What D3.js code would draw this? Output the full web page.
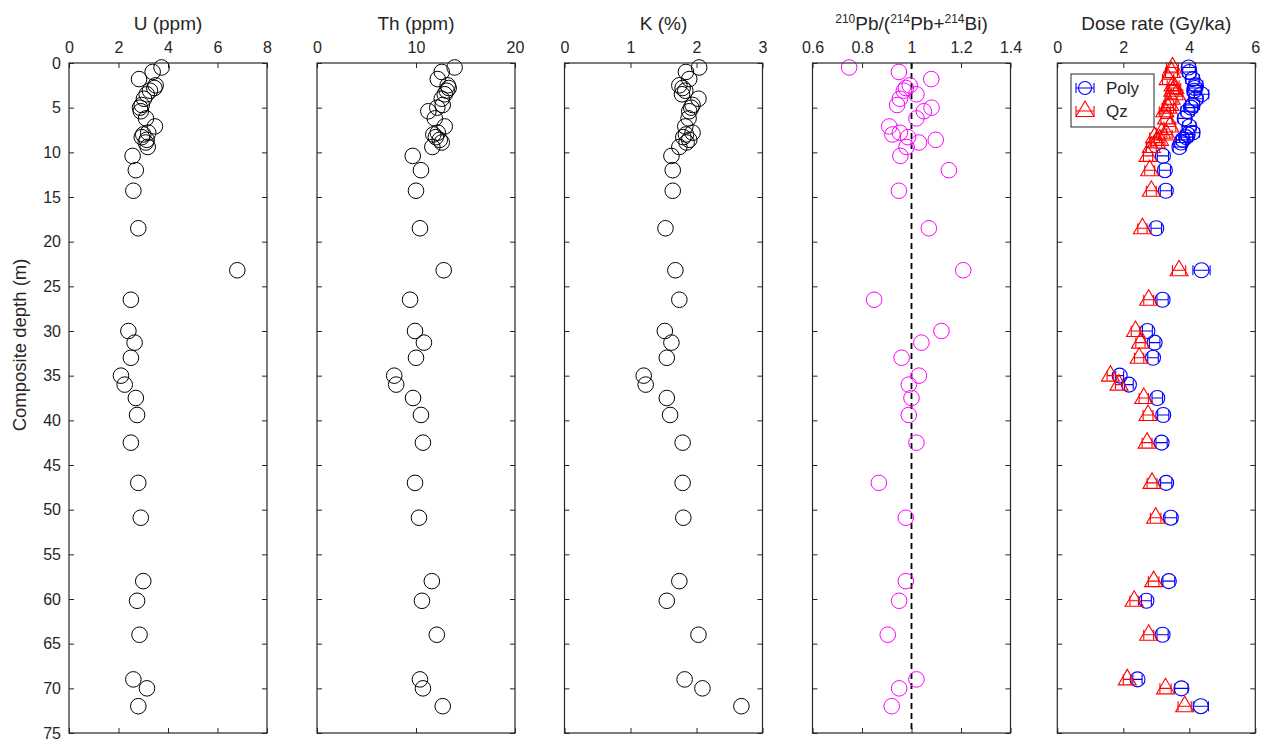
<!DOCTYPE html>
<html>
<head>
<meta charset="utf-8">
<script src="https://cdn.jsdelivr.net/npm/d3@7"></script>
<style>
  body { margin: 0; background: #fff; }
  svg { display: block; font-family: Arial, "Liberation Sans", sans-serif; }
</style>
</head>
<body>
<div id="chart"></div>
<script>
// sample depths (m), shared by all panels
const depth = [0.5, 1.0, 1.8, 2.5, 2.8, 3.1, 3.5, 4.0, 4.7, 5.0, 5.4, 6.2, 7.1, 7.8, 8.0, 8.3, 8.6, 8.9, 9.4, 10.4,
    12.0, 14.3, 18.5, 23.2, 26.5, 30.0, 31.3, 33.0, 35.0, 36.0, 37.5, 39.4, 42.5, 47.0, 50.9, 58.0, 60.2, 64.0, 69.0, 70.0, 72.0];

const uPpm = [3.74, 3.38, 2.83, 3.5, 3.45, 3.27, 3.14, 3.03, 2.94, 2.87, 2.9, 3.11, 3.47, 3.2, 3.0, 2.94, 3.14, 3.1, 3.18, 2.57,
    2.7, 2.6, 2.8, 6.8, 2.5, 2.4, 2.65, 2.5, 2.1, 2.25, 2.7, 2.75, 2.5, 2.8, 2.9, 3.0, 2.75, 2.85, 2.6, 3.15, 2.8];

const thPpm = [13.9, 12.6, 12.2, 13.2, 13.3, 13.1, 12.9, 12.6, 12.7, 12.15, 11.25, 11.9, 12.9, 12.2, 11.75, 12.0, 12.4, 12.6, 11.65, 9.67,
    10.5, 10.0, 10.4, 12.8, 9.4, 9.9, 10.8, 10.0, 7.8, 8.0, 9.7, 10.5, 10.7, 9.9, 10.3, 11.6, 10.6, 12.1, 10.4, 10.7, 12.7];

const kPct = [2.04, 1.84, 1.89, 1.74, 1.79, 1.83, 1.78, 2.03, 1.94, 1.92, 1.89, 1.88, 1.83, 1.94, 1.84, 1.8, 1.89, 1.85, 1.74, 1.62,
    1.64, 1.64, 1.53, 1.68, 1.74, 1.52, 1.62, 1.55, 1.2, 1.23, 1.55, 1.6, 1.79, 1.79, 1.8, 1.74, 1.55, 2.03, 1.82, 2.09, 2.68];

const pbRatio = [0.748, 0.949, 1.08, 0.993, 0.977, 0.969, 1.02, 0.953, 0.942, 1.081, 1.05, 1.02, 0.91, 0.953, 0.923, 0.986, 1.098, 1.03, 0.98, 0.955,
    1.151, 0.949, 1.07, 1.209, 0.849, 1.121, 1.04, 0.96, 1.03, 0.989, 1.0, 0.989, 1.02, 0.868, 0.977, 0.977, 0.95, 0.904, 1.02, 0.95, 0.92];

const polyDose = [3.98, 4.0, 4.1, 4.2, 4.17, 4.15, 4.37, 4.2, 4.1, 4.05, 3.95, 3.86, 4.0, 4.1, 3.95, 3.9, 3.8, 3.75, 3.7, 3.2,
    3.26, 3.29, 3.0, 4.37, 3.19, 2.73, 2.95, 2.9, 1.89, 2.17, 3.03, 3.21, 3.16, 3.3, 3.44, 3.38, 2.7, 3.19, 2.43, 3.76, 4.35];
const polyErr = [0.2, 0.2, 0.2, 0.21, 0.21, 0.21, 0.22, 0.21, 0.21, 0.2, 0.2, 0.2, 0.2, 0.21, 0.2, 0.2, 0.19, 0.19, 0.19, 0.17,
    0.17, 0.17, 0.16, 0.26, 0.17, 0.15, 0.16, 0.16, 0.12, 0.13, 0.16, 0.17, 0.17, 0.17, 0.18, 0.18, 0.15, 0.17, 0.14, 0.2, 0.23];

const qzDose = [3.49, 3.46, 3.36, 3.51, 3.56, 3.5, 3.61, 3.45, 3.41, 3.35, 3.26, 3.31, 3.41, 3.16, 3.31, 2.95, 3.1, 3.0, 2.85, 2.75,
    2.8, 2.85, 2.58, 3.69, 2.77, 2.37, 2.52, 2.48, 1.61, 1.87, 2.62, 2.75, 2.72, 2.87, 2.98, 2.92, 2.33, 2.77, 2.12, 3.28, 3.86];
const qzErr = [0.18, 0.18, 0.17, 0.18, 0.18, 0.18, 0.19, 0.18, 0.18, 0.17, 0.17, 0.17, 0.18, 0.16, 0.17, 0.15, 0.16, 0.16, 0.15, 0.14,
    0.15, 0.15, 0.14, 0.2, 0.15, 0.13, 0.14, 0.14, 0.1, 0.11, 0.14, 0.15, 0.15, 0.15, 0.16, 0.16, 0.13, 0.15, 0.12, 0.17, 0.2];

const depthTicks = [0, 5, 10, 15, 20, 25, 30, 35, 40, 45, 50, 55, 60, 65, 70, 75];
const uTicks = [0, 2, 4, 6, 8];
const thTicks = [0, 10, 20];
const kTicks = [0, 1, 2, 3];
const pbTicks = [0.6, 0.8, 1, 1.2, 1.4];
const doseTicks = [0, 2, 4, 6];
const legendLabels = ['Poly', 'Qz'];

const W = 1271, H = 744;
const plotTop = 63, plotBottom = 733, pw = 198;
const ink = '#262626';

const svg = d3.select('#chart').append('svg')
    .attr('width', W)
    .attr('height', H);

const y = d3.scaleLinear().domain([0, 75]).range([plotTop, plotBottom]);

const panels = [
    { title: 'U (ppm)', domain: [0, 8], ticks: uTicks, left: 69, values: uPpm, color: '#000' },
    { title: 'Th (ppm)', domain: [0, 20], ticks: thTicks, left: 317, values: thPpm, color: '#000' },
    { title: 'K (%)', domain: [0, 3], ticks: kTicks, left: 564.5, values: kPct, color: '#000' },
    { title: null, domain: [0.6, 1.4], ticks: pbTicks, left: 812.5, values: pbRatio, color: '#ff00ff' },
    { title: 'Dose rate (Gy/ka)', domain: [0, 6], ticks: doseTicks, left: 1057.3, values: null }
];

function styleAxis(g) {
    g.select('.domain').remove();
    g.attr('font-size', 16).attr('font-family', null).attr('color', ink);
    g.selectAll('line').attr('stroke-width', 1);
    g.selectAll('text').attr('fill', ink);
}

function triangle(cx, cy) {
    const p = d3.path();
    p.moveTo(cx, cy - 10);
    p.lineTo(cx - 9, cy + 5.5);
    p.lineTo(cx + 9, cy + 5.5);
    p.closePath();
    return p.toString();
}

function errorBars(g, x, vals, errs, color) {
    const rows = d3.zip(depth, vals, errs);
    const eb = g.append('g').attr('stroke', color).attr('stroke-width', 1.1).attr('fill', 'none');
    eb.selectAll('path.bar').data(rows).join('path')
        .attr('class', 'bar')
        .attr('d', d => {
            const x0 = x(d[1] - d[2]), x1 = x(d[1] + d[2]), yy = y(d[0]);
            return `M${x0},${yy}H${x1}M${x0},${yy - 5}V${yy + 5}M${x1},${yy - 5}V${yy + 5}`;
        });
    return rows;
}

panels.forEach((p, i) => {
    const x = d3.scaleLinear().domain(p.domain).range([p.left, p.left + pw]);
    const g = svg.append('g');

    g.append('g')
        .attr('transform', `translate(0,${plotTop})`)
        .call(d3.axisTop(x).tickValues(p.ticks).tickFormat(d3.format('~g')).tickSize(-5).tickSizeOuter(0).tickPadding(10))
        .call(styleAxis);
    g.append('g')
        .attr('transform', `translate(0,${plotBottom})`)
        .call(d3.axisBottom(x).tickValues(p.ticks).tickFormat('').tickSize(-5).tickSizeOuter(0))
        .call(styleAxis);
    g.append('g')
        .attr('transform', `translate(${p.left},0)`)
        .call(d3.axisLeft(y).tickValues(depthTicks).tickSize(-5).tickSizeOuter(0).tickPadding(8)
            .tickFormat(i === 0 ? d3.format('d') : ''))
        .call(styleAxis);
    g.append('g')
        .attr('transform', `translate(${p.left + pw},0)`)
        .call(d3.axisRight(y).tickValues(depthTicks).tickFormat('').tickSize(-5).tickSizeOuter(0))
        .call(styleAxis);

    // title
    if (p.title) {
        g.append('text')
            .attr('x', p.left + pw / 2)
            .attr('y', 30)
            .attr('text-anchor', 'middle')
            .attr('font-size', 19)
            .attr('fill', ink)
            .text(p.title);
    } else {
        const t = g.append('text')
            .attr('x', p.left + pw / 2)
            .attr('y', 30)
            .attr('text-anchor', 'middle')
            .attr('font-size', 19)
            .attr('fill', ink);
        t.append('tspan').attr('font-size', 12).attr('dy', -7).text('210');
        t.append('tspan').attr('dy', 7).text('Pb/(');
        t.append('tspan').attr('font-size', 12).attr('dy', -7).text('214');
        t.append('tspan').attr('dy', 7).text('Pb+');
        t.append('tspan').attr('font-size', 12).attr('dy', -7).text('214');
        t.append('tspan').attr('dy', 7).text('Bi)');

        g.append('line')
            .attr('x1', x(1)).attr('x2', x(1))
            .attr('y1', plotTop).attr('y2', plotBottom)
            .attr('stroke', '#000')
            .attr('stroke-width', 1.8)
            .attr('stroke-dasharray', '6,4');
    }

    if (p.values) {
        g.append('g').selectAll('circle')
            .data(d3.zip(depth, p.values))
            .join('circle')
            .attr('cx', d => x(d[1]))
            .attr('cy', d => y(d[0]))
            .attr('r', 7.8)
            .attr('fill', 'none')
            .attr('stroke', p.color)
            .attr('stroke-width', 1);
    } else {
        const polyRows = errorBars(g, x, polyDose, polyErr, '#0000ff');
        g.append('g').selectAll('circle')
            .data(polyRows)
            .join('circle')
            .attr('cx', d => x(d[1]))
            .attr('cy', d => y(d[0]))
            .attr('r', 7.5)
            .attr('fill', 'none')
            .attr('stroke', '#0000ff')
            .attr('stroke-width', 1.1);

        const qzRows = errorBars(g, x, qzDose, qzErr, '#ff0000');
        g.append('g').selectAll('path')
            .data(qzRows)
            .join('path')
            .attr('d', d => triangle(x(d[1]), y(d[0])))
            .attr('fill', 'none')
            .attr('stroke', '#ff0000')
            .attr('stroke-width', 1.1);

        // legend
        const lg = g.append('g');
        lg.append('rect')
            .attr('x', 1071).attr('y', 74)
            .attr('width', 83).attr('height', 53)
            .attr('fill', '#fff')
            .attr('stroke', ink)
            .attr('stroke-width', 1);
        legendLabels.forEach((lab, j) => {
            const ly = 88 + j * 23, lx = 1085, col = j === 0 ? '#0000ff' : '#ff0000';
            lg.append('path')
                .attr('d', `M${lx - 9},${ly}H${lx + 9}M${lx - 9},${ly - 5}V${ly + 5}M${lx + 9},${ly - 5}V${ly + 5}`)
                .attr('stroke', col).attr('stroke-width', 1.1).attr('fill', 'none');
            if (j === 0) {
                lg.append('circle').attr('cx', lx).attr('cy', ly).attr('r', 6.5)
                    .attr('fill', 'none').attr('stroke', col).attr('stroke-width', 1.1);
            } else {
                lg.append('path').attr('d', triangle(lx, ly))
                    .attr('fill', 'none').attr('stroke', col).attr('stroke-width', 1.1);
            }
            lg.append('text')
                .attr('x', 1106).attr('y', ly + 6)
                .attr('font-size', 17)
                .attr('fill', ink)
                .text(lab);
        });
    }

    // box
    g.append('rect')
        .attr('x', p.left).attr('y', plotTop)
        .attr('width', pw).attr('height', plotBottom - plotTop)
        .attr('fill', 'none')
        .attr('stroke', ink)
        .attr('stroke-width', 1.2);
});

svg.append('text')
    .attr('transform', 'translate(26,345) rotate(-90)')
    .attr('text-anchor', 'middle')
    .attr('font-size', 18.5)
    .attr('fill', ink)
    .text('Composite depth (m)');
</script>
</body>
</html>
